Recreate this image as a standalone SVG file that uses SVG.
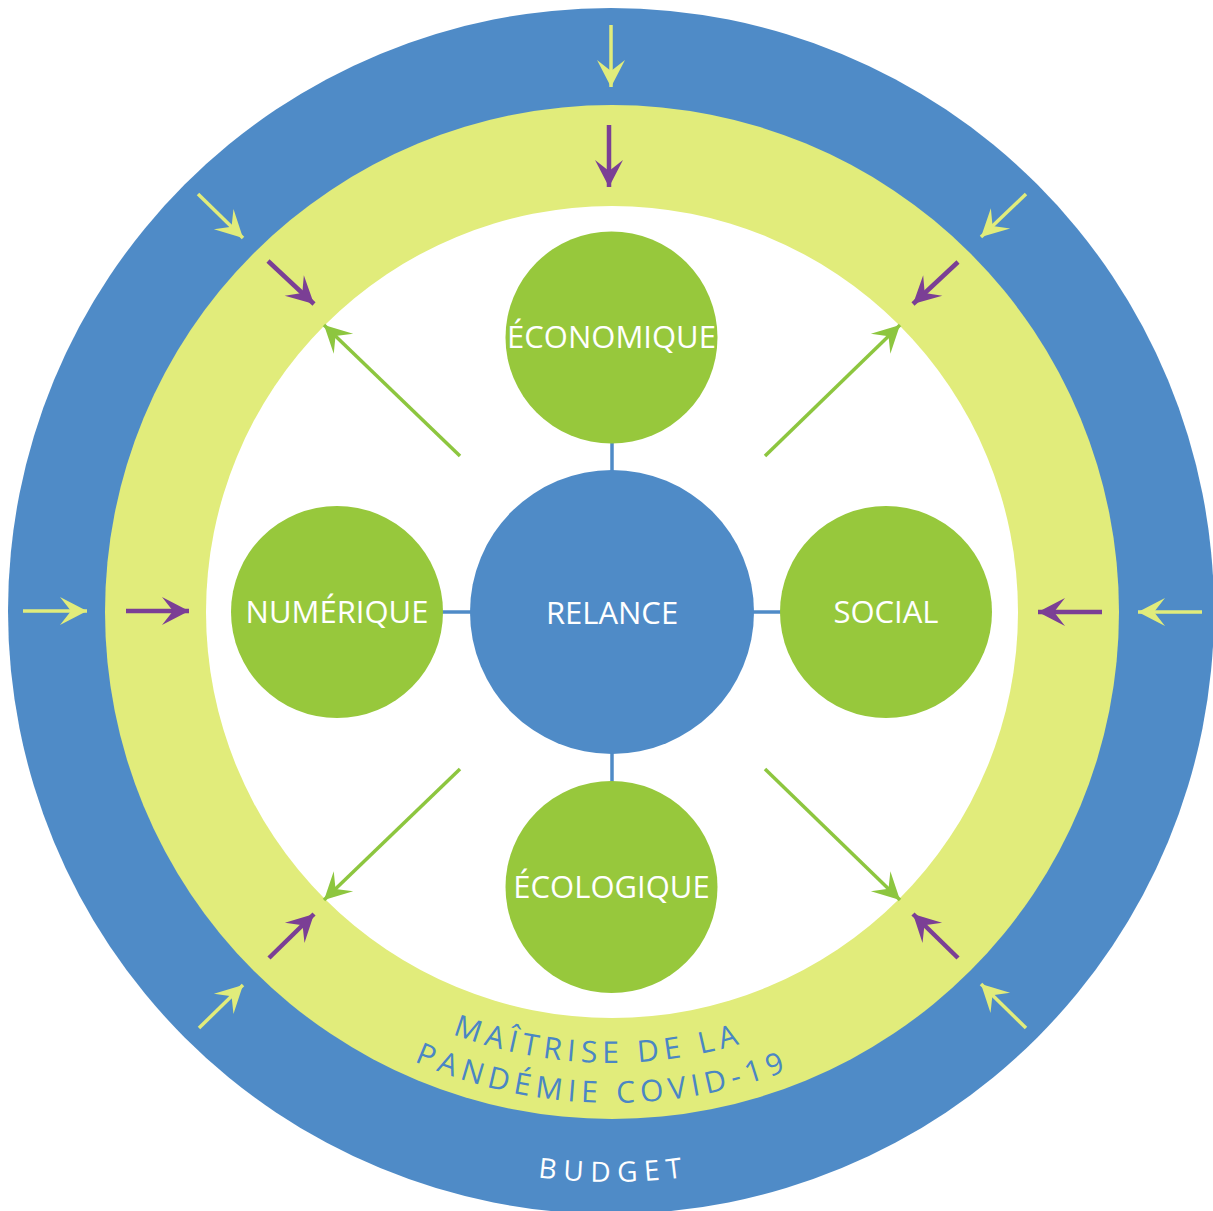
<svg xmlns="http://www.w3.org/2000/svg" width="1213" height="1211" viewBox="0 0 1213 1211">
<style>
.lbl{font-family:"Open Sans","Liberation Sans",sans-serif;font-size:31px;fill:#ffffff;text-anchor:middle}
.ring{font-family:"Open Sans","Liberation Sans",sans-serif;font-size:30px;fill:#4A86C5;letter-spacing:5.6px}
.bud{font-family:"Open Sans","Liberation Sans",sans-serif;font-size:28px;fill:#ffffff;letter-spacing:7px}
.ay{stroke:#E1EC7B;stroke-width:3.5;fill:none;marker-end:url(#hy)}
.ap{stroke:#7B3F95;stroke-width:4.5;fill:none;marker-end:url(#hp)}
.ag{stroke:#8DC63F;stroke-width:3.5;fill:none;marker-end:url(#hg)}
.conn{stroke:#4F8BC7;stroke-width:3.5}
</style>
<defs>
<marker id="hy" markerUnits="userSpaceOnUse" markerWidth="32" markerHeight="32" viewBox="-30 -16 32 32" refX="0" refY="0" orient="auto" overflow="visible"><path d="M0,0 L-27,-14 L-16,0 L-27,14 Z" fill="#E1EC7B"/></marker>
<marker id="hp" markerUnits="userSpaceOnUse" markerWidth="32" markerHeight="32" viewBox="-30 -16 32 32" refX="0" refY="0" orient="auto" overflow="visible"><path d="M0,0 L-27,-14 L-16,0 L-27,14 Z" fill="#7B3F95"/></marker>
<marker id="hg" markerUnits="userSpaceOnUse" markerWidth="32" markerHeight="32" viewBox="-30 -16 32 32" refX="0" refY="0" orient="auto" overflow="visible"><path d="M0,0 L-27,-14 L-16,0 L-27,14 Z" fill="#8DC63F"/></marker>
<path id="arcM" d="M160,612 A451,451 0 0 0 1062,612"/>
<path id="arcP" d="M121,612 A491,491 0 0 0 1103,612"/>
<path id="arcB" d="M41,612 A570,570 0 0 0 1181,612"/>
</defs>
<rect width="1213" height="1211" fill="#ffffff"/>
<g id="budget-ring">
<circle cx="611" cy="611" r="603" fill="#4F8BC7"/>
<text class="bud"><textPath href="#arcB" startOffset="898" text-anchor="middle">BUDGET</textPath></text>
</g>
<g id="pandemie-ring">
<circle cx="612" cy="612" r="507" fill="#E1EC7B"/>
<circle cx="612" cy="612" r="406" fill="#ffffff"/>
<text class="ring"><textPath href="#arcM" startOffset="695" text-anchor="middle">MAÎTRISE  DE LA</textPath></text>
<text class="ring"><textPath href="#arcP" startOffset="761" text-anchor="middle">PANDÉMIE COVID-19</textPath></text>
</g>
<g id="connectors">
<line class="conn" x1="612" y1="442" x2="612" y2="472"/>
<line class="conn" x1="612" y1="752" x2="612" y2="782"/>
<line class="conn" x1="442" y1="612" x2="472" y2="612"/>
<line class="conn" x1="752" y1="612" x2="782" y2="612"/>
<line class="ay" x1="611" y1="25" x2="611" y2="87"/>
<line class="ap" x1="609" y1="125" x2="609" y2="187"/>
<line class="ay" x1="23" y1="611" x2="87" y2="611"/>
<line class="ap" x1="126" y1="611" x2="189" y2="611"/>
<line class="ap" x1="1102" y1="612" x2="1038" y2="612"/>
<line class="ay" x1="1202" y1="612" x2="1138" y2="612"/>
<line class="ay" x1="198" y1="194" x2="243" y2="238"/>
<line class="ap" x1="268" y1="261" x2="314" y2="304"/>
<line class="ay" x1="1026" y1="194" x2="981" y2="237"/>
<line class="ap" x1="958" y1="262" x2="913" y2="304"/>
<line class="ay" x1="199" y1="1028" x2="243" y2="985"/>
<line class="ap" x1="269" y1="958" x2="314" y2="914"/>
<line class="ap" x1="958" y1="958" x2="913" y2="914"/>
<line class="ay" x1="1026" y1="1028" x2="981" y2="984"/>
<line class="ag" x1="460" y1="456" x2="324" y2="325"/>
<line class="ag" x1="765" y1="456" x2="900" y2="325"/>
<line class="ag" x1="460" y1="769" x2="324" y2="900"/>
<line class="ag" x1="765" y1="769" x2="900" y2="900"/>
</g>
<g id="relance">
<circle cx="612" cy="612" r="142" fill="#4F8BC7"/>
<text class="lbl" x="612" y="624">RELANCE</text>
</g>
<g id="economique">
<circle cx="611.5" cy="337.5" r="106" fill="#97C83C"/>
<text class="lbl" x="611.5" y="348">ÉCONOMIQUE</text>
</g>
<g id="numerique">
<circle cx="337" cy="612" r="106" fill="#97C83C"/>
<text class="lbl" x="337" y="623">NUMÉRIQUE</text>
</g>
<g id="social">
<circle cx="886" cy="612" r="106" fill="#97C83C"/>
<text class="lbl" x="886" y="623">SOCIAL</text>
</g>
<g id="ecologique">
<circle cx="611.5" cy="887" r="106" fill="#97C83C"/>
<text class="lbl" x="611.5" y="898">ÉCOLOGIQUE</text>
</g>
</svg>
